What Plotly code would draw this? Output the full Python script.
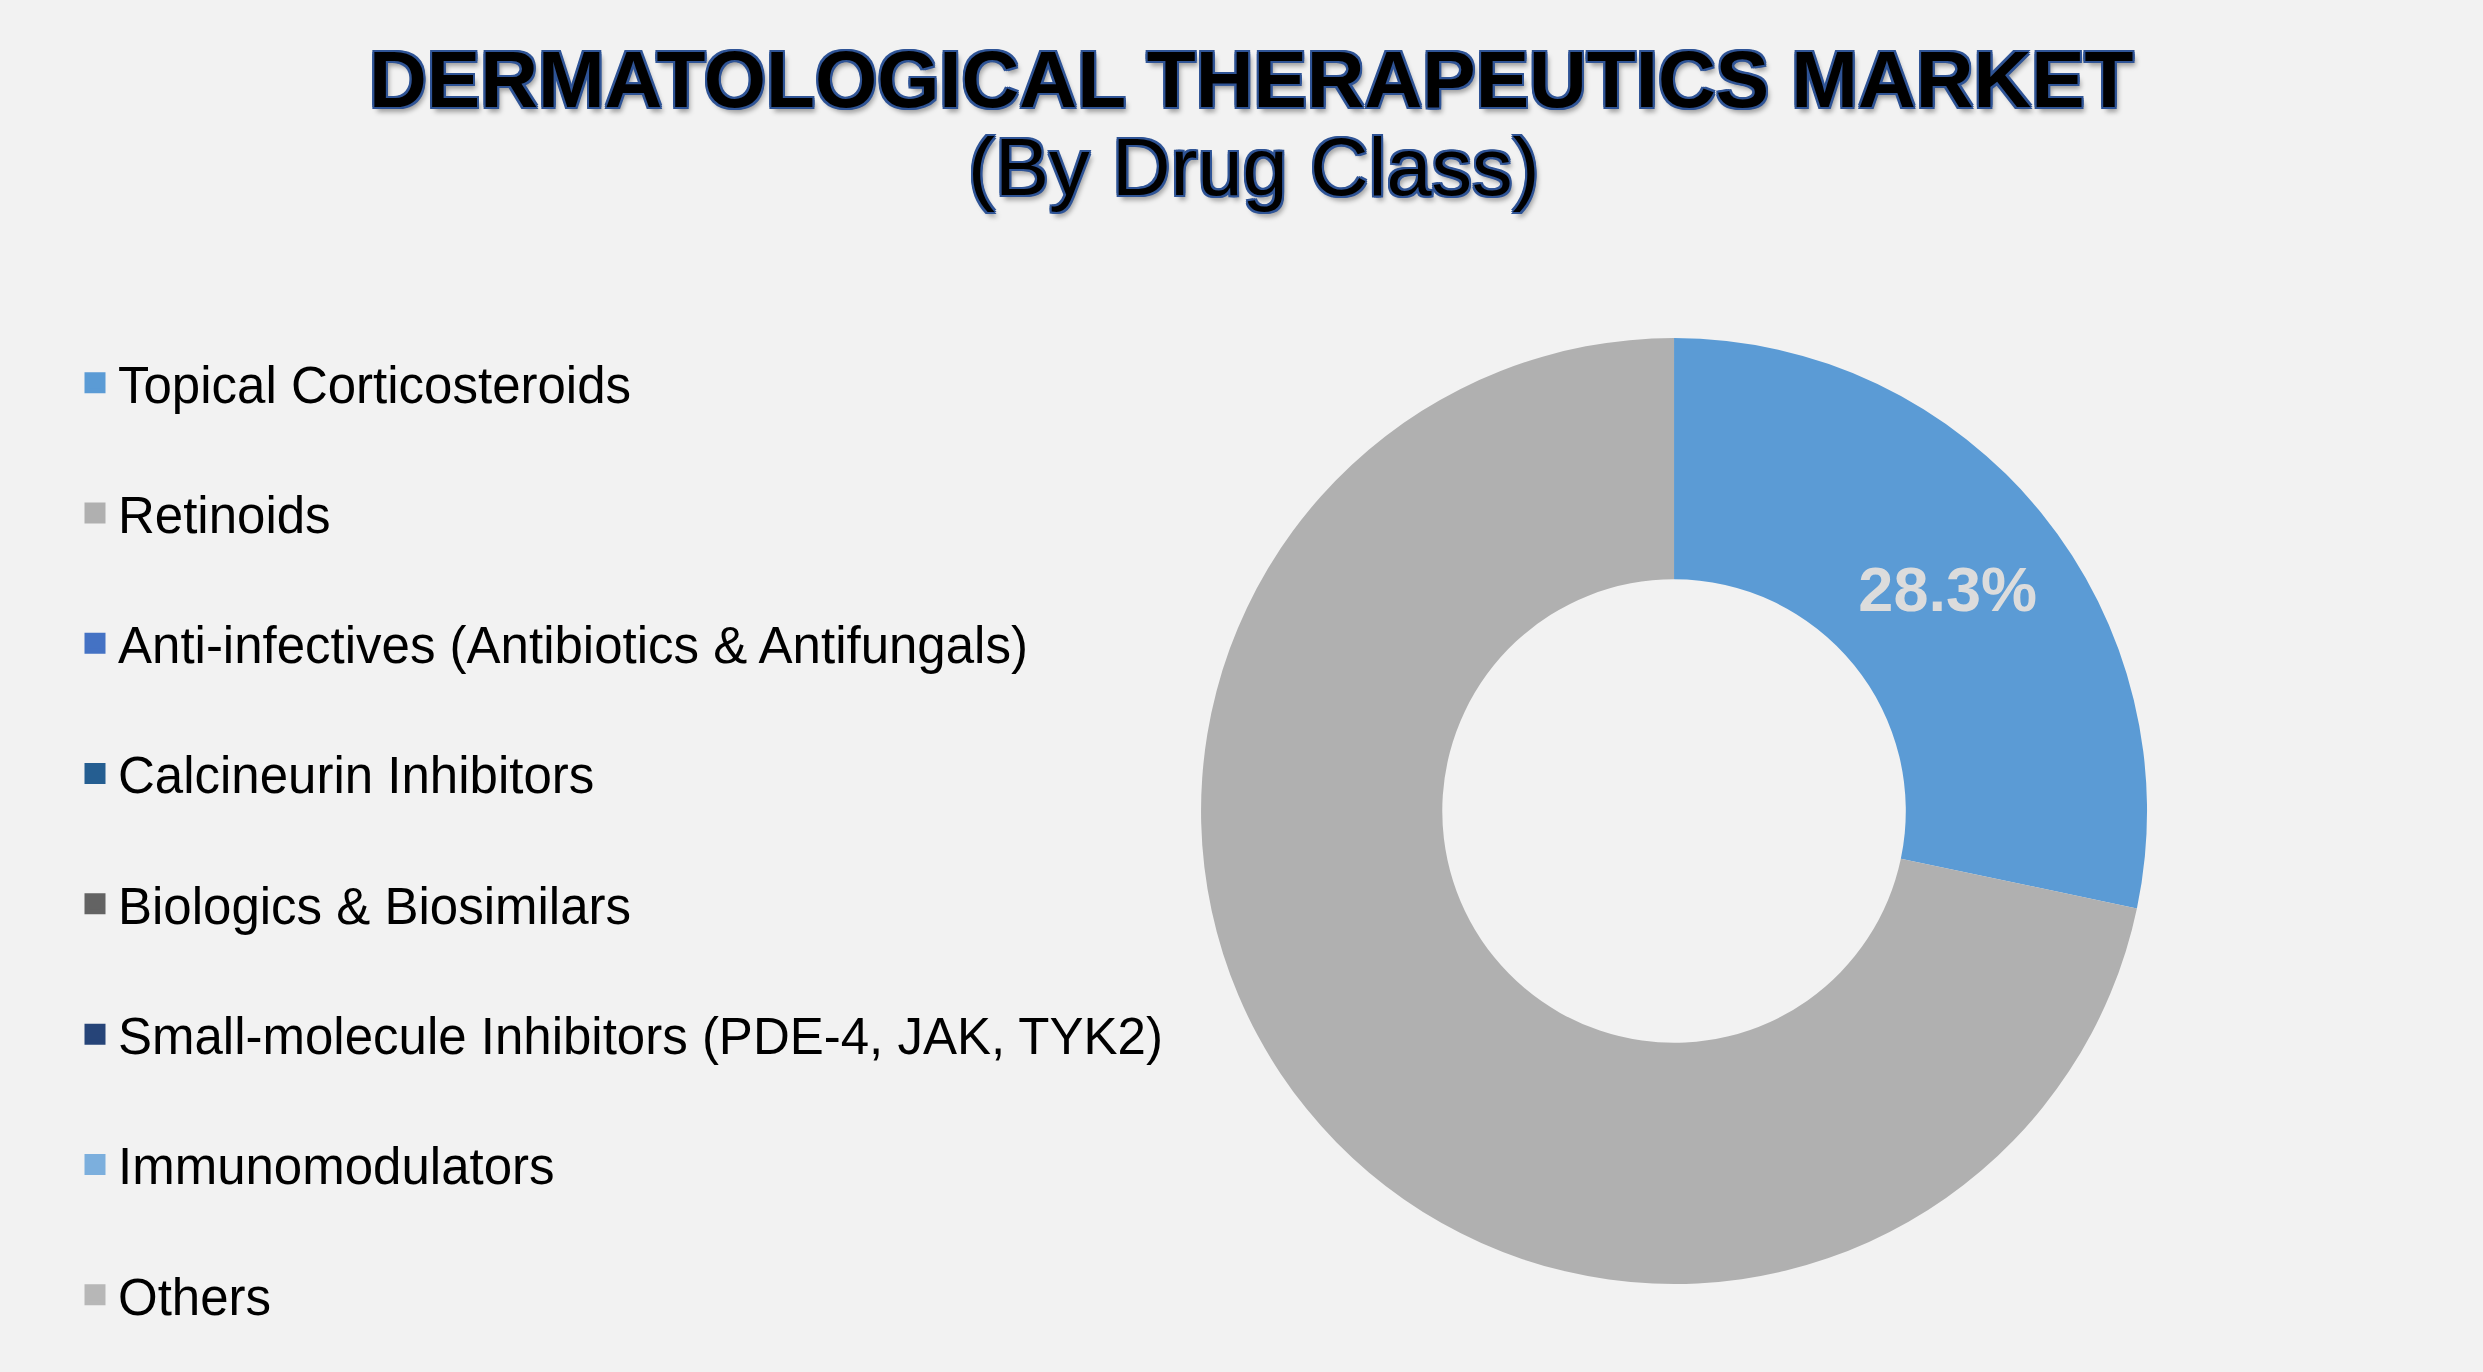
import plotly.graph_objects as go

# ---- data ----
categories = [
    "Topical Corticosteroids",
    "Retinoids",
    "Anti-infectives (Antibiotics & Antifungals)",
    "Calcineurin Inhibitors",
    "Biologics & Biosimilars",
    "Small-molecule Inhibitors (PDE-4, JAK, TYK2)",
    "Immunomodulators",
    "Others",
]
shares = [28.3, 71.7, 0, 0, 0, 0, 0, 0]
shown_labels = [True, False, False, False, False, False, False, False]
colors = ["#5b9bd5", "#b0b0b0", "#4472c4", "#255e91",
          "#636363", "#264478", "#7cafdd", "#b7b7b7"]

TITLE = "DERMATOLOGICAL THERAPEUTICS MARKET"
SUBTITLE = "(By Drug Class)"

W, H = 2483, 1372
BG = "#f2f2f2"
FONT = "Liberation Sans, Arial, sans-serif"

fig = go.Figure()

fig.add_trace(go.Pie(
    labels=categories,
    values=shares,
    marker=dict(colors=colors, line=dict(width=0)),
    hole=0.49,
    sort=False,
    direction="clockwise",
    rotation=0,
    texttemplate=["%{percent:.1%}" if s else "" for s in shown_labels],
    textposition="inside",
    insidetextorientation="horizontal",
    textfont=dict(family=FONT, size=63, color="#dcdcdc", weight="bold"),
    domain=dict(x=[0.4837, 0.8647], y=[0.0641, 0.7536]),
    showlegend=False,
    hoverinfo="label+percent",
))

# legend entries (one per category, same colours as the slices)
for i, (name, col) in enumerate(zip(categories, colors)):
    fig.add_trace(go.Scatter(
        x=[None], y=[None], mode="markers", name=name,
        marker=dict(symbol="square", size=20, color=col,
                    line=dict(width=5, color=col)),
        legendgroup=f"g{i}", showlegend=True, hoverinfo="skip",
    ))

outline = "#2f5496"
shadow = (f"-2px -2px 0 {outline}, 2px -2px 0 {outline}, -2px 2px 0 {outline}, "
          f"2px 2px 0 {outline}, 0 2px 0 {outline}, 0 -2px 0 {outline}, "
          f"2px 0 0 {outline}, -2px 0 0 {outline}, 3px 5px 5px rgba(0,0,0,0.35)")

fig.add_annotation(
    text=f"<b>{TITLE}</b>", x=1251 / W, y=1 - 80 / H, xref="paper", yref="paper",
    xanchor="center", yanchor="middle", showarrow=False,
    font=dict(family=FONT, size=80, color="#000000", shadow=shadow),
)
fig.add_annotation(
    text=SUBTITLE, x=1254 / W, y=1 - 167 / H, xref="paper", yref="paper",
    xanchor="center", yanchor="middle", showarrow=False,
    font=dict(family=FONT, size=81, color="#000000", shadow=shadow),
)

fig.update_layout(
    width=W, height=H,
    paper_bgcolor=BG, plot_bgcolor=BG,
    margin=dict(l=0, r=0, t=0, b=0),
    xaxis=dict(visible=False), yaxis=dict(visible=False),
    legend=dict(
        x=72 / W, y=1 - 343 / H, xanchor="left", yanchor="top",
        font=dict(family=FONT, size=51, color="#000000"),
        bgcolor="rgba(0,0,0,0)", tracegroupgap=61, itemsizing="trace",
        itemwidth=36,
    ),
    font=dict(family=FONT),
)

fig.write_html("out.html")
